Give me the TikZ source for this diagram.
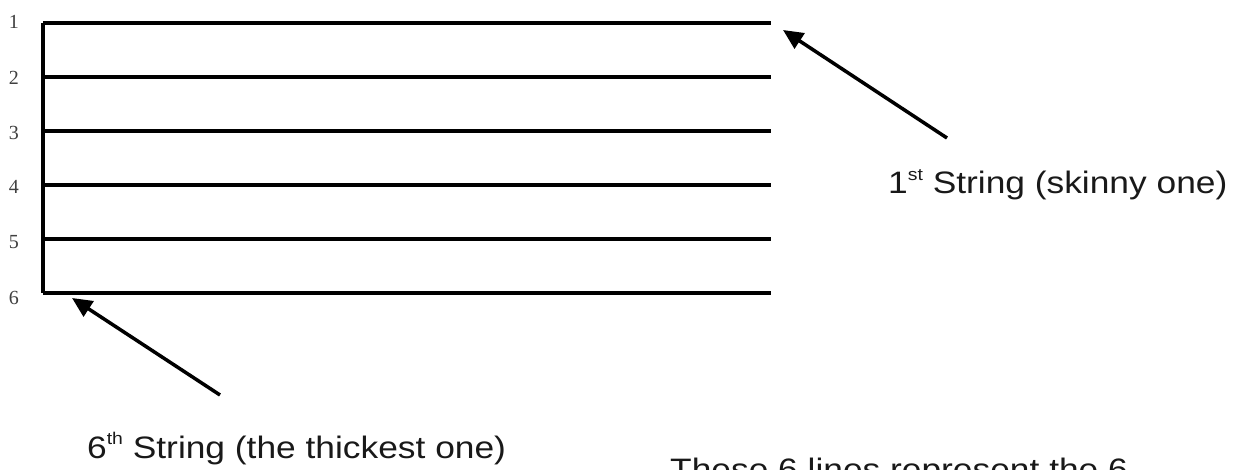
\documentclass[tikz,border=0pt]{standalone}
\usepackage{fontspec}
\setmainfont{Liberation Sans}[FakeStretch=1.14]
\newfontfamily\numfont{Liberation Serif}
\newcommand{\ordsup}[1]{\raisebox{0.42em}{\fontsize{17}{17}\selectfont #1}}
\usetikzlibrary{arrows.meta}
\begin{document}
\begin{tikzpicture}[x=1pt,y=-1pt,
  stringline/.style={line width=3.5pt},
  pointer/.style={line width=3.5pt,-{Triangle[length=20pt,width=18pt]}},
  stringnum/.style={font=\numfont\fontsize{20}{20}\selectfont,text=black!75,inner sep=0pt},
  caption/.style={font=\fontsize{31}{37}\selectfont,text=black!90,inner sep=0pt,anchor=base west}]
\useasboundingbox (0,0) rectangle (1245,470);
\clip (0,0) rectangle (1245,470);
\draw[stringline] (43,23) -- (771,23);
\draw[stringline] (43,77) -- (771,77);
\draw[stringline] (43,131) -- (771,131);
\draw[stringline] (43,185) -- (771,185);
\draw[stringline] (43,239) -- (771,239);
\draw[stringline] (43,293) -- (771,293);
\draw[stringline] (43,23) -- (43,293);
\node[stringnum] (num1) at (14,22) {1};
\node[stringnum] (num2) at (14,78) {2};
\node[stringnum] (num3) at (14,133) {3};
\node[stringnum] (num4) at (14,187) {4};
\node[stringnum] (num5) at (14,242) {5};
\node[stringnum] (num6) at (14,298) {6};
\node[caption] (firstlbl) at (888,194) {1\ordsup{st} String (skinny one)};
\node[caption] (sixthlbl) at (87,458) {6\ordsup{th} String (the thickest one)};
\node[caption] (notelbl) at (670,480) {These 6 lines represent the 6};
\coordinate (firsttail) at (947,138);
\coordinate (firsttip) at (783,30);
\coordinate (sixthtail) at (220,395);
\coordinate (sixthtip) at (72,298);
\draw[pointer] (firsttail) -- (firsttip);
\draw[pointer] (sixthtail) -- (sixthtip);
\end{tikzpicture}
\end{document}
